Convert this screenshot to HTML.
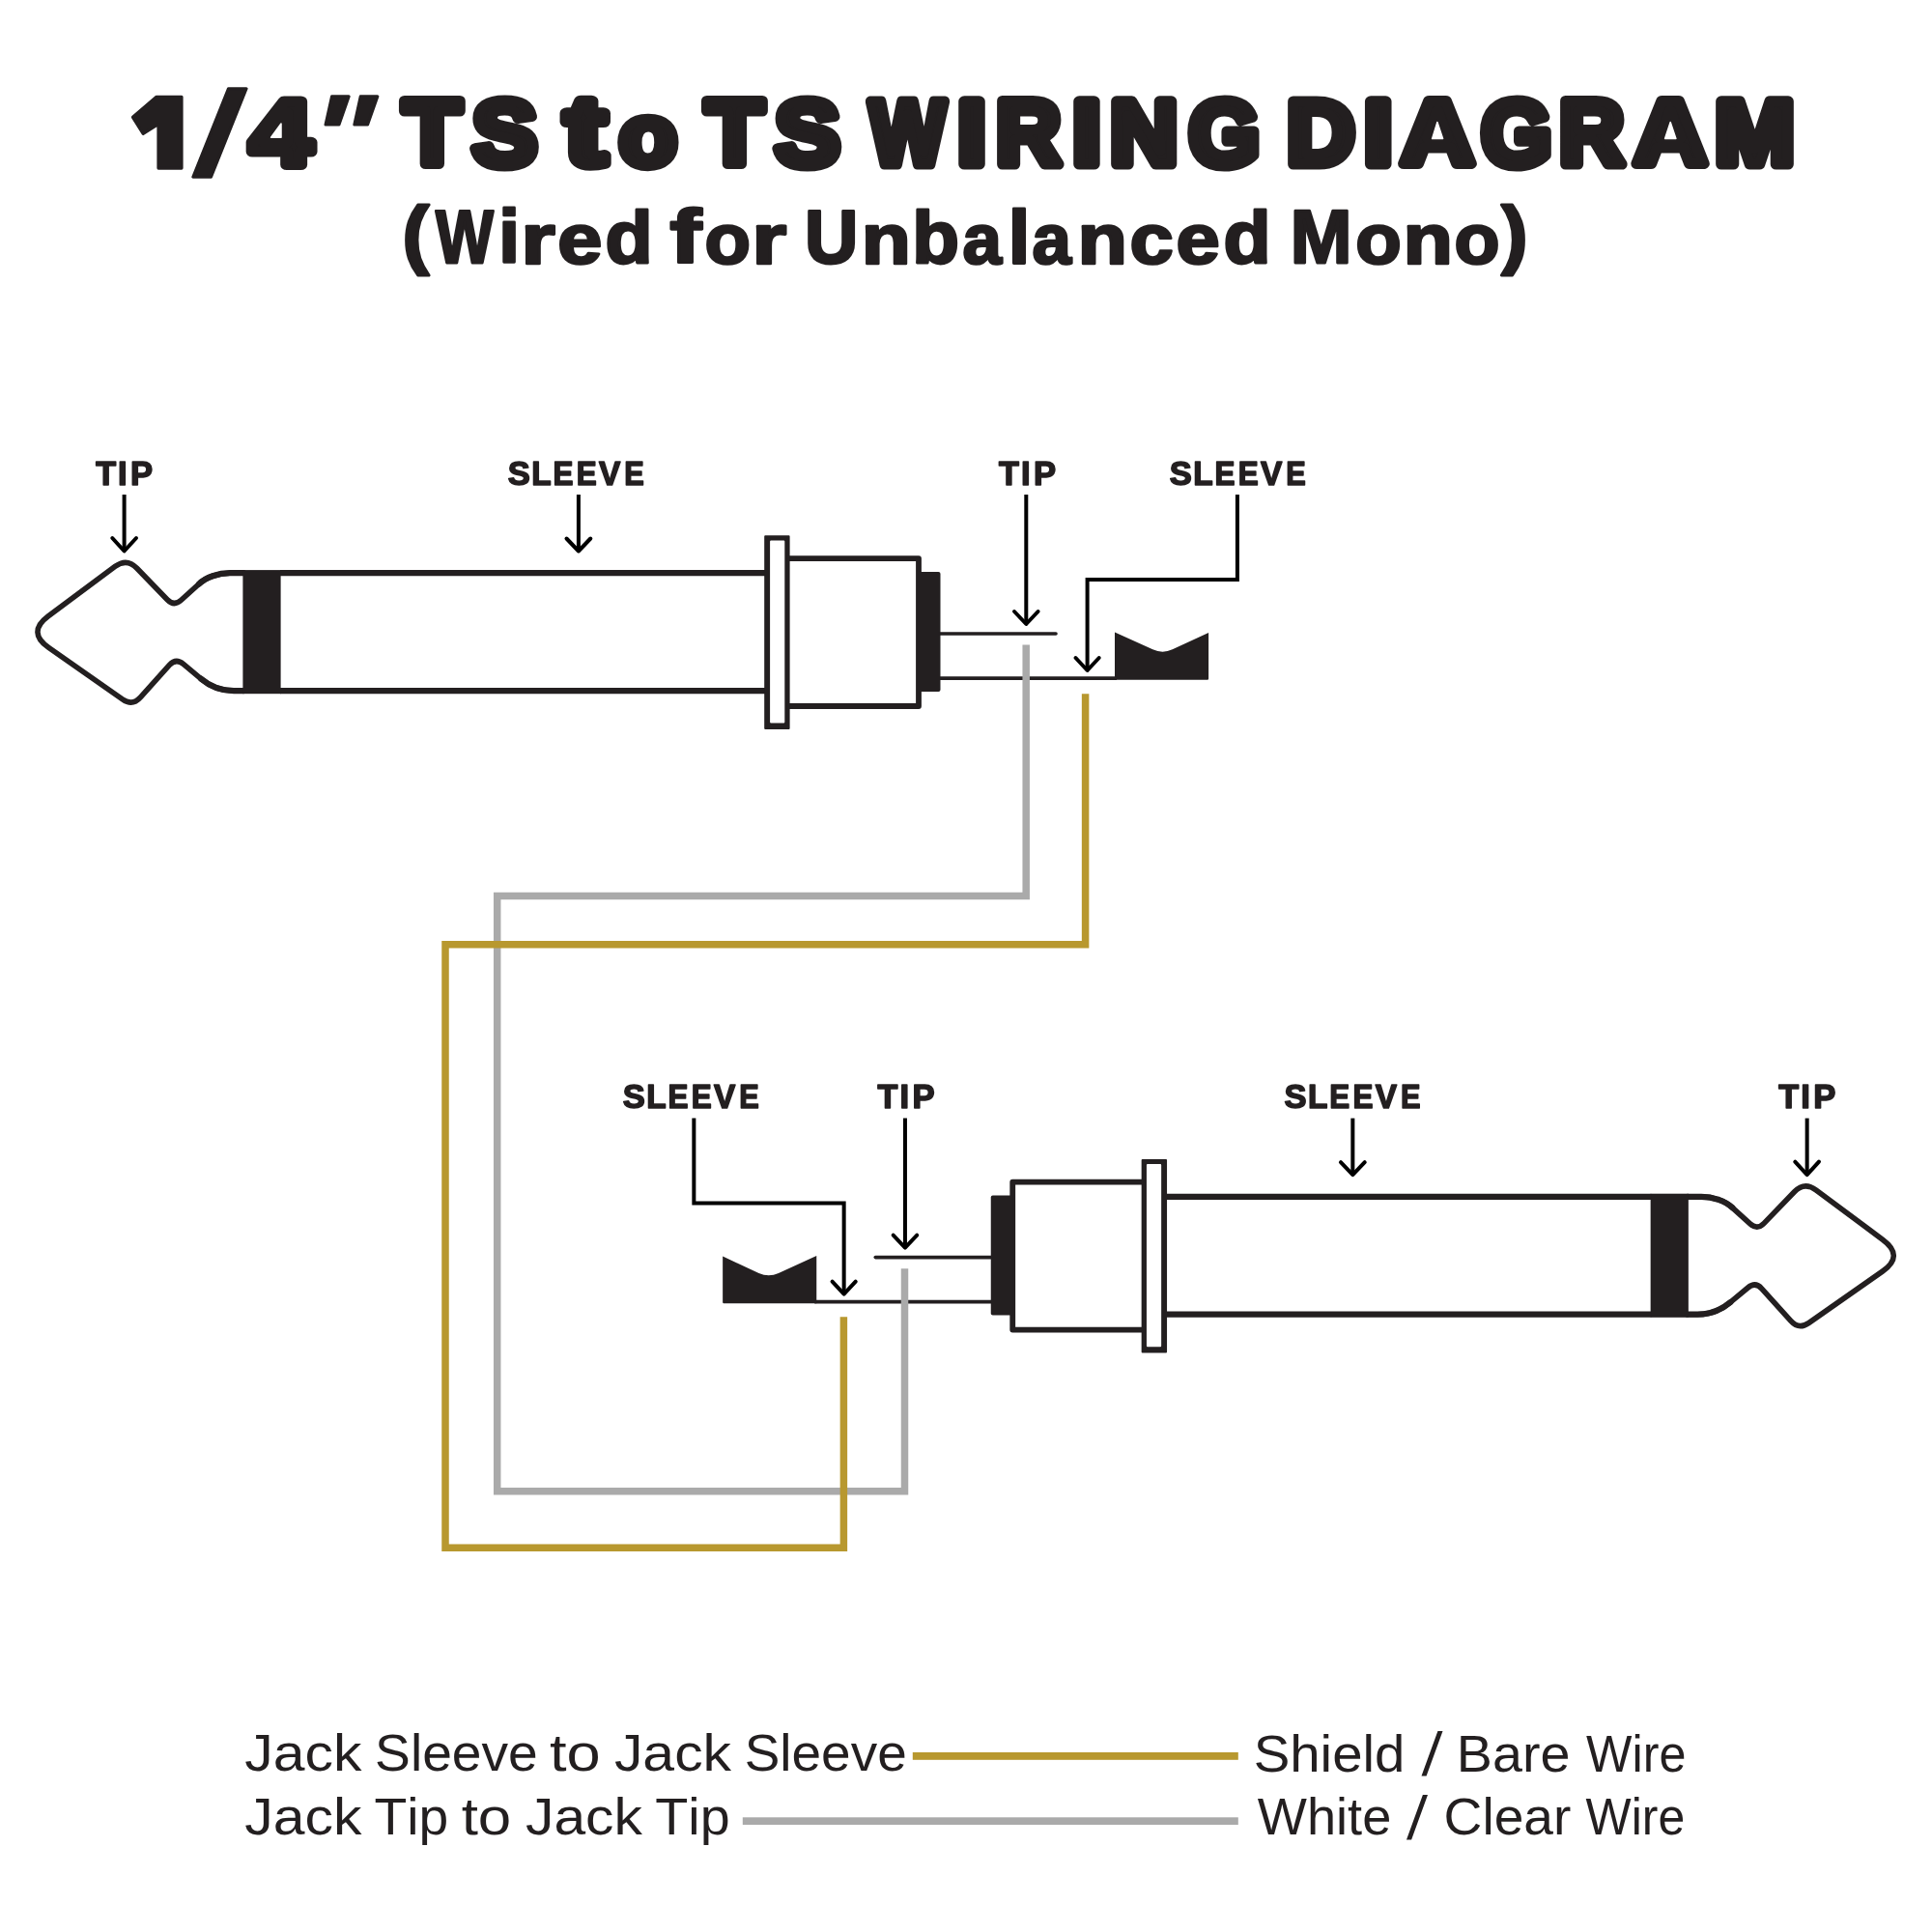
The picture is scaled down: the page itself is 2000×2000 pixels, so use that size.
<!DOCTYPE html>
<html><head><meta charset="utf-8">
<style>
html,body{margin:0;padding:0;background:#fff;width:2000px;height:2000px;overflow:hidden}
svg{display:block;will-change:transform}
text{font-family:"Liberation Sans",sans-serif;font-kerning:none}
.lbl text{font-weight:bold;fill:#231f20;stroke:#231f20;stroke-linejoin:round}
.leg text{fill:#231f20}
.ttl text{font-weight:bold;fill:#231f20;stroke:#231f20;stroke-linejoin:round}
</style></head>
<body>
<svg width="2000" height="2000" viewBox="0 0 2000 2000">
<rect width="2000" height="2000" fill="#fff"/>
<defs>
<g id="jack">
  <path d="M251.5,593.2 L238,593.2 C226,593.2 213.3,597.6 206,604.5 L187.51,621.28 Q180.10,628.00 173.16,620.80 L141.71,588.20 Q131.30,577.40 119.26,586.35 L50.07,637.79 Q27.60,654.50 50.54,670.55 L126.94,723.99 Q137.10,731.10 145.39,721.87 L175.42,688.44 Q182.10,681.00 189.78,687.40 L208,702.6 C215.6,709 228,715.1 242,715.1 L251.5,715.1" fill="none" stroke="#231f20" stroke-width="5.6" stroke-linejoin="round"/>
  <path d="M252,593.2 L238,593.2 C226,593.2 213.3,597.6 206,604.5 M252,715.1 L242,715.1 C228,715.1 215.6,709 208,702.6" fill="none" stroke="#231f20" stroke-width="6.2" stroke-linecap="round"/>
  <rect x="251.4" y="590.1" width="39.2" height="128.1" fill="#231f20"/>
  <path d="M290,593.2 H794 M290,715.1 H794" stroke="#231f20" stroke-width="6.2" fill="none"/>
  <path fill-rule="evenodd" fill="#231f20" d="M792.2,554.3 H816.6 Q817.6,554.3 817.6,555.3 V753.9 Q817.6,754.9 816.6,754.9 H792.2 Q791.2,754.9 791.2,753.9 V555.3 Q791.2,554.3 792.2,554.3 Z M798.1,559.4 H811.3 Q812.3,559.4 812.3,560.4 V747.6 Q812.3,748.6 811.3,748.6 H798.1 Q797.1,748.6 797.1,747.6 V560.4 Q797.1,559.4 798.1,559.4 Z"/>
  <path d="M814.8,578.1 H951 V731 H814.8" fill="none" stroke="#231f20" stroke-width="5.8" stroke-linejoin="round"/>
  <path d="M951,592 H971.5 Q973.5,592 973.5,594 V714 Q973.5,716 971.5,716 H951 Z" fill="#231f20"/>
  <path d="M973,656 H1093" stroke="#231f20" stroke-width="3.6" stroke-linecap="round" fill="none"/>
  <path d="M973,702.1 H1156" stroke="#231f20" stroke-width="3.8" fill="none"/>
  <path d="M1154,654.4 L1193.3,672.3 Q1203.5,677 1213.7,672.3 L1251.1,655 V702.5 Q1251.1,703.7 1250,703.7 H1154 Z" fill="#231f20"/>
  <g fill="none" stroke="#000" stroke-width="4" stroke-linecap="round" stroke-linejoin="round">
    <path d="M128.6,512 V569.5" stroke-linecap="butt"/>
    <path d="M116.3,557 L128.6,570.5 L141,557"/>
    <path d="M598.9,512 V570.5" stroke-linecap="butt"/>
    <path d="M586.5,557.5 L598.9,570.5 L611.3,557.5"/>
    <path d="M1062.3,512 V646" stroke-linecap="butt"/>
    <path d="M1050,633 L1062.3,646 L1074.6,633"/>
    <path d="M1280.9,512 V600 H1125.6 V694" stroke-linecap="butt" stroke-linejoin="miter"/>
    <path d="M1113.5,681 L1125.6,694 L1137.7,681"/>
  </g>
</g>
</defs>
<use href="#jack"/>
<use href="#jack" transform="matrix(-1,0,0,1,1999.25,645.6)"/>

<path d="M1062.2,667.5 V927.5 H514.7 V1543.8 H936.5 V1313.2" fill="none" stroke="#aaaaaa" stroke-width="7.5" stroke-linejoin="miter"/>
<path d="M1123.6,718.3 V977.7 H461 V1602.3 H873.4 V1363.3" fill="none" stroke="#b8982f" stroke-width="7.5" stroke-linejoin="miter"/>

<rect x="944.8" y="1814" width="337" height="7.8" fill="#b8982f"/>
<rect x="768.8" y="1881.3" width="513" height="7.7" fill="#aaaaaa"/>

<g fill="#231f20" stroke="#231f20" stroke-width="3" stroke-linejoin="round">
  <path d="M199.8,183.2 L218.5,183.2 L255.1,91.8 L236.4,91.8 Z"/>
  <path d="M162,100.3 H188 V174.1 H164 V128.5 L148.2,138.5 L137.5,121.3 Z" stroke-width="3.2"/>
  <path d="M337,129 L351,129 L361.2,99.8 L343.5,99.8 Z"/>
  <path d="M366.8,129 L380.6,129 L390.9,99.8 L373.2,99.8 Z"/>
</g>
<path d="M1471.5,1838.6 L1476.6,1838.6 L1493.5,1792 L1488.4,1792 Z M1456,1904.6 L1461.1,1904.6 L1478,1858 L1472.9,1858 Z" fill="#231f20"/>
<g class="ttl" font-size="95" stroke-width="11">
<text transform="matrix(1.1941,0,0,1.0005,259.55,170.20)">4</text>
<text transform="matrix(1.0292,0,0,1.0005,417.56,170.20)">T</text>
<text transform="matrix(1.0572,0,0,1.0094,489.12,170.51)">S</text>
<text transform="matrix(1.3196,0,0,1.0527,585.13,169.83)">t</text>
<text transform="matrix(1.0291,0,0,0.9327,640.94,171.01)">o</text>
<text transform="matrix(1.0307,0,0,1.0005,730.47,170.20)">T</text>
<text transform="matrix(1.0601,0,0,1.0094,802.23,170.51)">S</text>
<text transform="matrix(0.8688,0,0,1.0005,900.60,170.20)">W</text>
<text transform="matrix(1.1181,0,0,1.0005,991.34,170.20)">I</text>
<text transform="matrix(0.9747,0,0,1.0005,1031.37,170.20)">R</text>
<text transform="matrix(1.1141,0,0,1.0005,1110.25,170.20)">I</text>
<text transform="matrix(1.0202,0,0,1.0005,1149.23,170.20)">N</text>
<text transform="matrix(0.9906,0,0,1.0094,1230.69,170.51)">G</text>
<text transform="matrix(1.0222,0,0,1.0005,1332.13,170.20)">D</text>
<text transform="matrix(1.1181,0,0,1.0005,1412.04,170.20)">I</text>
<text transform="matrix(1.0959,0,0,1.0005,1450.53,170.20)">A</text>
<text transform="matrix(0.9839,0,0,1.0094,1533.48,170.51)">G</text>
<text transform="matrix(0.9761,0,0,1.0005,1614.37,170.20)">R</text>
<text transform="matrix(1.0905,0,0,1.0005,1691.82,170.20)">A</text>
<text transform="matrix(1.0423,0,0,1.0005,1775.21,170.20)">M</text>
</g>
<g class="ttl" font-size="79" stroke-width="2.9">
<text transform="matrix(1.0518,0,0,0.9877,416.49,268.97)">(</text>
<text transform="matrix(0.8033,0,0,0.9939,450.90,272.46)">W</text>
<text transform="matrix(0.9899,0,0,0.9943,516.18,272.46)">i</text>
<text transform="matrix(1.1564,0,0,0.9329,539.35,272.55)">r</text>
<text transform="matrix(1.0499,0,0,0.9441,577.18,272.60)">e</text>
<text transform="matrix(1.0185,0,0,0.9653,626.38,272.46)">d</text>
<text transform="matrix(1.2423,0,0,0.9943,693.42,272.46)">f</text>
<text transform="matrix(0.9848,0,0,0.9441,729.39,272.60)">o</text>
<text transform="matrix(1.1711,0,0,0.9329,778.30,272.55)">r</text>
<text transform="matrix(0.9705,0,0,0.9927,833.00,272.39)">U</text>
<text transform="matrix(1.0597,0,0,0.9329,891.82,272.55)">n</text>
<text transform="matrix(1.0092,0,0,0.9653,944.21,272.46)">b</text>
<text transform="matrix(0.9195,0,0,0.9441,996.61,272.60)">a</text>
<text transform="matrix(1.0262,0,0,0.9777,1043.73,273.18)">l</text>
<text transform="matrix(0.9195,0,0,0.9441,1068.61,272.60)">a</text>
<text transform="matrix(1.0670,0,0,0.9329,1115.59,272.55)">n</text>
<text transform="matrix(1.0305,0,0,0.9441,1169.61,272.60)">c</text>
<text transform="matrix(1.0305,0,0,0.9441,1217.61,272.60)">e</text>
<text transform="matrix(1.0185,0,0,0.9653,1266.48,272.46)">d</text>
<text transform="matrix(0.9684,0,0,0.9939,1335.79,272.46)">M</text>
<text transform="matrix(0.9848,0,0,0.9441,1403.29,272.60)">o</text>
<text transform="matrix(1.0670,0,0,0.9329,1452.49,272.55)">n</text>
<text transform="matrix(0.9737,0,0,0.9441,1505.61,272.60)">o</text>
<text transform="matrix(1.0359,0,0,0.9877,1554.32,268.97)">)</text>
</g>
<g class="lbl" font-size="34.5" stroke-width="1.6">
<text class="" transform="matrix(0.9901,0,0,1,99.21,502.00)">T</text>
<text class="" transform="matrix(1.0046,0,0,1,122.09,502.00)">I</text>
<text class="" transform="matrix(1.0036,0,0,1,135.09,502.00)">P</text>
<text class="" transform="matrix(1.0004,0,0,1,525.81,502.00)">S</text>
<text class="" transform="matrix(0.9669,0,0,1,550.33,502.00)">L</text>
<text class="" transform="matrix(0.9099,0,0,1,572.60,502.00)">E</text>
<text class="" transform="matrix(0.9099,0,0,1,596.79,502.00)">E</text>
<text class="" transform="matrix(0.9687,0,0,1,620.08,502.00)">V</text>
<text class="" transform="matrix(0.8908,0,0,1,646.29,502.00)">E</text>
<text class="" transform="matrix(0.9901,0,0,1,1034.11,502.00)">T</text>
<text class="" transform="matrix(1.0046,0,0,1,1056.99,502.00)">I</text>
<text class="" transform="matrix(1.0036,0,0,1,1069.99,502.00)">P</text>
<text class="" transform="matrix(1.0004,0,0,1,1210.81,502.00)">S</text>
<text class="" transform="matrix(0.9669,0,0,1,1235.33,502.00)">L</text>
<text class="" transform="matrix(0.9099,0,0,1,1257.60,502.00)">E</text>
<text class="" transform="matrix(0.9099,0,0,1,1281.79,502.00)">E</text>
<text class="" transform="matrix(0.9687,0,0,1,1305.08,502.00)">V</text>
<text class="" transform="matrix(0.8908,0,0,1,1331.29,502.00)">E</text>
<text class="" transform="matrix(1.0004,0,0,1,644.81,1147.00)">S</text>
<text class="" transform="matrix(0.9669,0,0,1,669.33,1147.00)">L</text>
<text class="" transform="matrix(0.9099,0,0,1,691.60,1147.00)">E</text>
<text class="" transform="matrix(0.9099,0,0,1,715.79,1147.00)">E</text>
<text class="" transform="matrix(0.9687,0,0,1,739.08,1147.00)">V</text>
<text class="" transform="matrix(0.8908,0,0,1,765.29,1147.00)">E</text>
<text class="" transform="matrix(0.9901,0,0,1,908.51,1147.00)">T</text>
<text class="" transform="matrix(1.0046,0,0,1,931.39,1147.00)">I</text>
<text class="" transform="matrix(1.0036,0,0,1,944.39,1147.00)">P</text>
<text class="" transform="matrix(1.0004,0,0,1,1329.51,1147.00)">S</text>
<text class="" transform="matrix(0.9669,0,0,1,1354.03,1147.00)">L</text>
<text class="" transform="matrix(0.9099,0,0,1,1376.30,1147.00)">E</text>
<text class="" transform="matrix(0.9099,0,0,1,1400.49,1147.00)">E</text>
<text class="" transform="matrix(0.9687,0,0,1,1423.78,1147.00)">V</text>
<text class="" transform="matrix(0.8908,0,0,1,1449.99,1147.00)">E</text>
<text class="" transform="matrix(0.9901,0,0,1,1841.31,1147.00)">T</text>
<text class="" transform="matrix(1.0046,0,0,1,1864.19,1147.00)">I</text>
<text class="" transform="matrix(1.0036,0,0,1,1877.19,1147.00)">P</text>
</g>
<g class="leg" font-size="54.5">
<text class="" transform="matrix(1.0819,0,0,1,253.28,1833.40)">Jack</text>
<text class="" transform="matrix(1.0127,0,0,1,388.09,1833.40)">Sleeve</text>
<text class="" transform="matrix(1.1597,0,0,1,569.04,1833.40)">to</text>
<text class="" transform="matrix(1.0819,0,0,1,635.88,1833.40)">Jack</text>
<text class="" transform="matrix(1.0084,0,0,1,770.70,1833.40)">Sleeve</text>
<text class="" transform="matrix(1.0350,0,0,1,1297.64,1833.60)">Shield</text>
<text class="" transform="matrix(1.0210,0,0,1,1507.84,1833.60)">Bare</text>
<text class="" transform="matrix(0.9228,0,0,1,1642.08,1833.60)">Wire</text>
<text class="" transform="matrix(1.0819,0,0,1,253.28,1899.40)">Jack</text>
<text class="" transform="matrix(1.0139,0,0,1,387.56,1899.40)">Tip</text>
<text class="" transform="matrix(1.1361,0,0,1,477.66,1899.40)">to</text>
<text class="" transform="matrix(1.0792,0,0,1,543.98,1899.40)">Jack</text>
<text class="" transform="matrix(1.0222,0,0,1,678.25,1899.40)">Tip</text>
<text class="" transform="matrix(0.9945,0,0,1,1301.76,1899.40)">White</text>
<text class="" transform="matrix(1.0121,0,0,1,1494.60,1899.40)">Clear</text>
<text class="" transform="matrix(0.9164,0,0,1,1641.58,1899.40)">Wire</text>
</g>
<g fill="#fff" stroke="#fff" stroke-width="1.5" stroke-linejoin="round">
  <path d="M1487.9,126.5 L1482.6,143.6 L1493.6,143.6 Z"/>
  <path d="M1729.2,126.5 L1723.6,143.6 L1734.9,143.6 Z"/>
  <path d="M291,128 L280.6,142.3 L291,142.3 Z"/>
</g>

</svg>
</body></html>
